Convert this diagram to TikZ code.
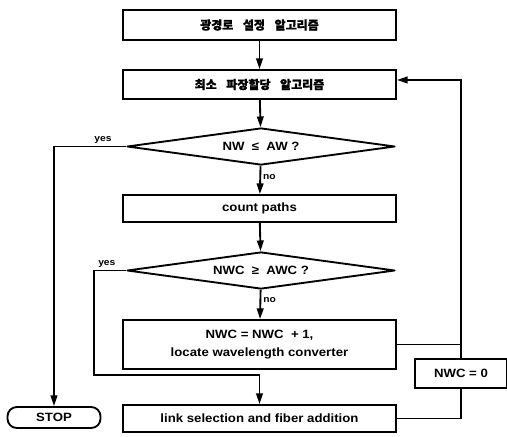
\documentclass[tikz,border=0pt]{standalone}
\usepackage{fontspec}
\setmainfont{Liberation Sans}[FakeStretch=1.1]
\newfontfamily\krfont{Noto Sans CJK KR}[BoldFeatures={FakeBold=1.2}]
\usetikzlibrary{arrows.meta,shapes.geometric}

\begin{document}
\begin{tikzpicture}[x=0.75pt,y=-0.75pt,line width=1.4pt,
  font=\fontsize{9}{12}\selectfont\bfseries,
  procbox/.style={draw,inner sep=0pt,minimum width=204.75pt,align=center},
  testbox/.style={draw,diamond,inner sep=0pt,aspect=7,line join=round,
    minimum width=201pt,minimum height=27.75pt},
  flow/.style={-{Triangle[length=8pt,width=5pt]}},
  tag/.style={font=\fontsize{7}{8}\selectfont\bfseries,inner sep=1.5pt}]
  \useasboundingbox (0,0) rectangle (507,436);
  \node[procbox,minimum height=22.5pt] (setup) at (259.5,25)
    {\krfont 광경로\hspace{0.8em}설정\hspace{0.8em}알고리즘};
  \node[procbox,minimum height=21.75pt] (assign) at (259.5,84.5)
    {\krfont 최소\hspace{0.8em}파장할당\hspace{0.8em}알고리즘};
  \node[testbox] (testnw) at (261,146.5) {NW \ ≤ \ AW ?};
  \node[procbox,minimum height=20.25pt] (count) at (259.5,208.5) {count paths};
  \node[testbox] (testnwc) at (261,270.5) {NWC \ ≥ \ AWC ?};
  \node[procbox,minimum height=36.75pt] (incr) at (259.5,344.5)
    {NWC = NWC \ + 1,\\[1pt] locate wavelength converter};
  \node[procbox,minimum height=20.25pt] (link) at (259.5,418.5)
    {link selection and fiber addition};
  \node[draw,rounded corners=7pt,minimum width=69.75pt,minimum height=15.75pt]
    (stop) at (54,417.5) {STOP};
  \node[draw,minimum width=69pt,minimum height=21.75pt] (reset) at (461,373.5) {NWC = 0};
  \coordinate (detour) at (94,375);

  \draw[flow] (setup) -- (assign);
  \draw[flow] (assign) -- (testnw);
  \draw[flow] (testnw) -- node[tag,right,pos=0.4] {no} (count);
  \draw[flow] (count) -- (testnwc);
  \draw[flow] (testnwc) -- node[tag,right,pos=0.35] {no} (incr);
  \draw[flow] (testnw.west) -| node[tag,above,pos=0.16] {yes} (stop.north);
  \draw[flow] (testnwc.west) -| node[tag,above,pos=0.3] {yes} (detour) -| (link.north);
  \draw (link.east) -| (reset.south);
  \draw[flow] (reset.north) |- ([yshift=3.4pt]assign.east);
  \draw (incr.east) -- (incr.east -| reset.north);
\end{tikzpicture}
\end{document}
